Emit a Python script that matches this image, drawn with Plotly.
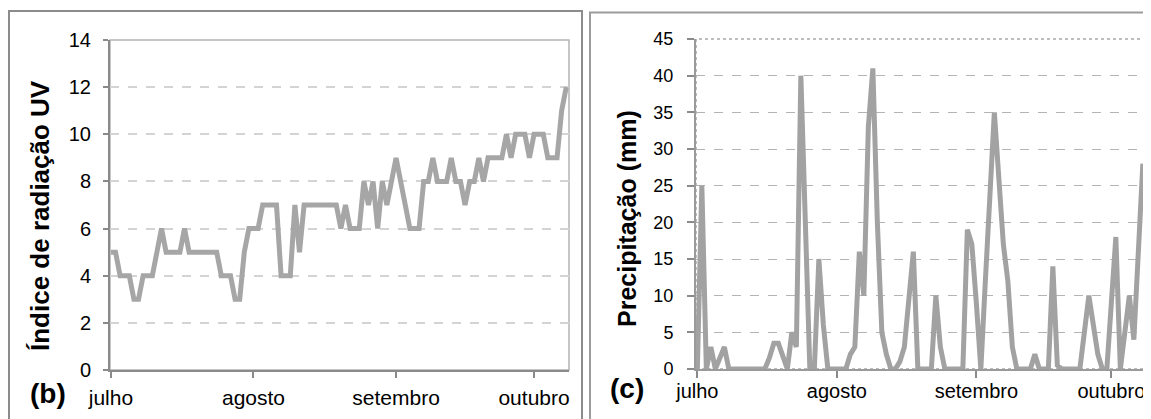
import plotly.graph_objects as go

# The page body has an 8px default margin, so the figure is drawn 8px in
# from the window's top-left corner; positions below are window pixels.
WIN_W, WIN_H = 1151, 419
OFF = 8
W, H = WIN_W - OFF, WIN_H - OFF

# ---- data (daily values, 1 July -> 8 October) ----
days = list(range(100))
month_ticks = [0, 31, 62, 92]
month_labels = ["julho", "agosto", "setembro", "outubro"]

uv_index = [5, 5, 4, 4, 4, 3, 3, 4, 4, 4,
            5, 6, 5, 5, 5, 5, 6, 5, 5, 5,
            5, 5, 5, 5, 4, 4, 4, 3, 3, 5,
            6, 6, 6, 7, 7, 7, 7, 4, 4, 4,
            7, 5, 7, 7, 7, 7, 7, 7, 7, 7,
            6, 7, 6, 6, 6, 8, 7, 8, 6, 8,
            7, 8, 9, 8, 7, 6, 6, 6, 8, 8,
            9, 8, 8, 8, 9, 8, 8, 7, 8, 8,
            9, 8, 9, 9, 9, 9, 10, 9, 10, 10,
            10, 9, 10, 10, 10, 9, 9, 9, 11, 12]

precip_mm = [0, 25, 0, 3, 0, 1.5, 3, 0, 0, 0,
             0, 0, 0, 0, 0, 0, 1.5, 3.5, 3.5, 1.5,
             0, 5, 3, 40, 20, 0, 0, 15, 6, 0,
             0, 0, 0, 0, 2, 3, 16, 10, 33, 41,
             20, 5, 2, 0, 0, 1, 3, 9, 16, 0,
             0, 0, 0, 10, 3, 0, 0, 0, 0, 0,
             19, 17, 9, 0, 12, 23, 35, 26, 17, 12,
             3, 0, 0, 0, 0, 2, 0, 0, 0, 14,
             0.5, 0, 0, 0, 0, 0, 5, 10, 6, 2,
             0, 0, 9, 18, 0, 5, 10, 4, 16, 28]

uv_ticks = [0, 2, 4, 6, 8, 10, 12, 14]
precip_ticks = [0, 5, 10, 15, 20, 25, 30, 35, 40, 45]

FONT = "Liberation Sans, Arial, sans-serif"


def px_x(v):
    return (v - OFF) / W


def px_y(v):
    return 1 - (v - OFF) / H


fig = go.Figure()
fig.add_trace(go.Scatter(x=days, y=uv_index, mode="lines", xaxis="x", yaxis="y",
                         line=dict(color="#a6a6a6", width=5), showlegend=False,
                         hoverinfo="skip"))
fig.add_trace(go.Scatter(x=days, y=precip_mm, mode="lines", xaxis="x2", yaxis="y2",
                         line=dict(color="#a2a2a2", width=5), showlegend=False,
                         hoverinfo="skip"))

fig.update_layout(
    width=W, height=H,
    margin=dict(l=0, r=0, t=0, b=0, pad=0),
    paper_bgcolor="white", plot_bgcolor="white",
    font=dict(family=FONT, color="#000000"),
    xaxis=dict(domain=[px_x(110), px_x(569)], range=[-0.2, 99.6],
               tickvals=month_ticks, ticktext=month_labels,
               ticks="outside", ticklen=6, tickcolor="#8a8a8a", tickwidth=1.5,
               showline=True, linecolor="#8a8a8a", linewidth=2,
               showgrid=False, zeroline=False, anchor="y", automargin=False,
               tickfont=dict(size=21, family=FONT), ticklabelstandoff=2),
    yaxis=dict(domain=[px_y(370), px_y(40)], range=[0, 14],
               tickvals=uv_ticks, ticks="outside", ticklen=5,
               tickcolor="#8a8a8a", tickwidth=1.5,
               showline=True, linecolor="#8a8a8a", linewidth=2,
               showgrid=True, gridcolor="#d4d4d4", gridwidth=1.5, griddash="dash",
               zeroline=False, anchor="x", automargin=False,
               tickfont=dict(size=20, family=FONT), ticklabelstandoff=8),
    xaxis2=dict(domain=[px_x(696), px_x(1146)], range=[-0.3, 99.7],
                tickvals=month_ticks, ticktext=month_labels,
                ticks="outside", ticklen=7, tickcolor="#8a8a8a", tickwidth=1.5,
                showline=True, linecolor="#9a9a9a", linewidth=2,
                showgrid=False, zeroline=False, anchor="y2", automargin=False,
                tickfont=dict(size=20, family=FONT), ticklabelstandoff=-4),
    yaxis2=dict(domain=[px_y(369), px_y(39)], range=[0, 45],
                tickvals=precip_ticks, ticks="outside", ticklen=7,
                tickcolor="#8a8a8a", tickwidth=1.5,
                showline=True, linecolor="#9a9a9a", linewidth=2,
                showgrid=True, gridcolor="#b4b4b4", gridwidth=1, griddash="dash",
                zeroline=False, anchor="x2", automargin=False,
                tickfont=dict(size=18, family=FONT), ticklabelstandoff=10),
)

shapes = [
    # plot-area frames (top / right borders)
    dict(type="rect", xref="x domain", yref="y domain", x0=0, x1=1, y0=0, y1=1,
         line=dict(color="#b4b4b4", width=1.5), layer="below"),
    dict(type="rect", xref="x2 domain", yref="y2 domain", x0=0, x1=1, y0=0, y1=1,
         line=dict(color="#a8a8a8", width=1.5, dash="dot"), layer="below"),
    # panel borders
    dict(type="rect", xref="paper", yref="paper",
         x0=px_x(9), x1=px_x(582), y0=px_y(440), y1=px_y(11),
         line=dict(color="#8c8c8c", width=2)),
    dict(type="rect", xref="paper", yref="paper",
         x0=px_x(590), x1=px_x(1175), y0=px_y(440), y1=px_y(12.5),
         line=dict(color="#9c9c9c", width=2)),
]
fig.update_layout(shapes=shapes)

annotations = [
    dict(text="<b>Índice de radiação UV</b>", x=px_x(40), y=px_y(216),
         xref="paper", yref="paper", textangle=-90, showarrow=False,
         font=dict(size=26, family=FONT), xanchor="center", yanchor="middle"),
    dict(text="<b>Precipitação (mm)</b>", x=px_x(627), y=px_y(219),
         xref="paper", yref="paper", textangle=-90, showarrow=False,
         font=dict(size=25, family=FONT), xanchor="center", yanchor="middle"),
    dict(text="<b>(b)</b>", x=px_x(48), y=px_y(393), xref="paper", yref="paper",
         showarrow=False, font=dict(size=28, family=FONT),
         xanchor="center", yanchor="middle"),
    dict(text="<b>(c)</b>", x=px_x(627), y=px_y(388), xref="paper", yref="paper",
         showarrow=False, font=dict(size=28, family=FONT),
         xanchor="center", yanchor="middle"),
]
fig.update_layout(annotations=annotations)

fig.write_html("out.html")
